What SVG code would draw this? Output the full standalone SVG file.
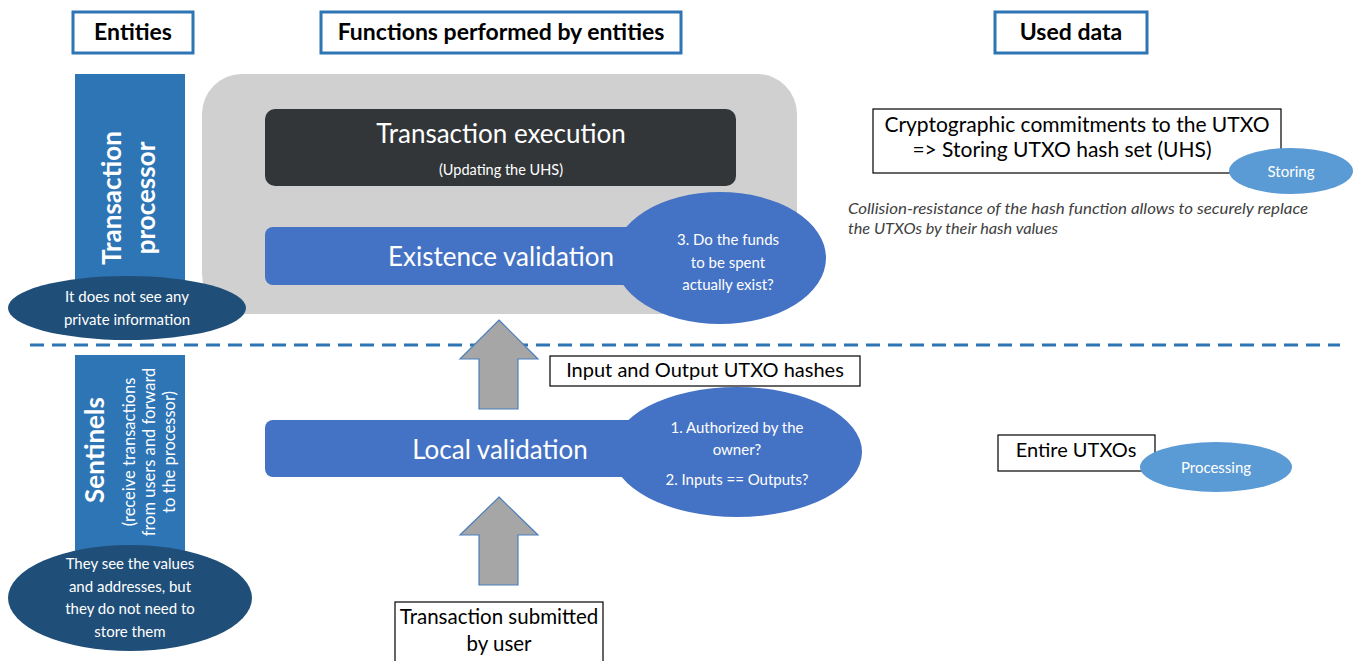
<svg xmlns="http://www.w3.org/2000/svg" width="1353" height="661" viewBox="0 0 1353 661">
<defs>
<style>
text{font-family:Lato,"Open Sans","Liberation Sans",sans-serif;}
.hdr{fill:#fff;stroke:#2e75b6;stroke-width:3;}
.hdrt{font-size:23px;font-weight:bold;fill:#000;text-anchor:middle;}
.bar{fill:#2e75b6;}
.dark{fill:#1f4e79;}
.mid{fill:#4472c4;}
.light{fill:#5b9bd5;}
.w{fill:#fff;text-anchor:middle;}
.box{fill:#fff;stroke:#000;stroke-width:1.2;}
.bt{fill:#000;text-anchor:middle;}
.arrow{fill:#a6a6a6;stroke:#4a7ebb;stroke-width:1.2;}
.big{font-size:26px;}
.small{font-size:15px;}
</style>
</defs>
<rect width="1353" height="661" fill="#fff"/>

<g id="headers">
<rect class="hdr" x="73" y="12" width="120" height="41"/>
<text class="hdrt" x="133" y="40">Entities</text>
<rect class="hdr" x="321" y="12" width="360" height="41"/>
<text class="hdrt" x="501" y="40">Functions performed by entities</text>
<rect class="hdr" x="995" y="12" width="152" height="41"/>
<text class="hdrt" x="1071" y="40">Used data</text>
</g>

<g id="processor-area">
<rect x="202" y="74" width="595" height="240" rx="40" fill="#d0d0d0"/>
</g>

<g id="tx-processor">
<rect class="bar" x="75" y="74" width="110" height="215"/>
<text class="w" transform="translate(121,198) rotate(-90)" style="font-size:26px;font-weight:bold">Transaction</text>
<text class="w" transform="translate(155,198) rotate(-90)" style="font-size:26px;font-weight:bold">processor</text>
</g>
<g id="tx-processor-note">
<ellipse class="dark" cx="127" cy="308" rx="119" ry="32"/>
<text class="w small" x="127" y="302">It does not see any</text>
<text class="w small" x="127" y="325">private information</text>
</g>

<g id="tx-execution">
<rect x="265" y="109" width="471" height="77" rx="10" fill="#333639"/>
<text class="w big" x="501" y="143">Transaction execution</text>
<text class="w" x="501" y="175" style="font-size:14.5px">(Updating the UHS)</text>
</g>

<g id="existence-validation">
<rect class="mid" x="265" y="227" width="390" height="58" rx="8"/>
<text class="w big" x="501" y="266">Existence validation</text>
</g>
<g id="existence-check">
<ellipse class="mid" cx="720" cy="258" rx="106" ry="66"/>
<text class="w small" x="728" y="245">3. Do the funds</text>
<text class="w small" x="728" y="268">to be spent</text>
<text class="w small" x="728" y="290">actually exist?</text>
</g>

<g id="connectors">
<line x1="30" y1="345" x2="1340" y2="345" stroke="#2e75b6" stroke-width="3" stroke-dasharray="14 8"/>
<polygon class="arrow" points="499,320 538,359 518,359 518,409 479,409 479,359 460,359"/>
<polygon class="arrow" points="499,497 538,535 518,535 518,585 479,585 479,535 460,535"/>
</g>

<g id="hashes-label">
<rect class="box" x="550" y="356" width="310" height="30"/>
<text class="bt" x="705" y="377" style="font-size:20px">Input and Output UTXO hashes</text>
</g>

<g id="sentinels">
<rect class="bar" x="75" y="355" width="110" height="200"/>
<text class="w" transform="translate(104,450) rotate(-90)" style="font-size:26px;font-weight:bold">Sentinels</text>
<text class="w" transform="translate(135,452) rotate(-90)" style="font-size:16.5px">(receive transactions</text>
<text class="w" transform="translate(155,452) rotate(-90)" style="font-size:16.5px">from users and forward</text>
<text class="w" transform="translate(175,452) rotate(-90)" style="font-size:16.5px">to the processor)</text>
</g>
<g id="sentinels-note">
<ellipse class="dark" cx="130" cy="598" rx="122" ry="53"/>
<text class="w small" x="130" y="569">They see the values</text>
<text class="w small" x="130" y="592">and addresses, but</text>
<text class="w small" x="130" y="614">they do not need to</text>
<text class="w small" x="130" y="637">store them</text>
</g>

<g id="local-validation">
<rect class="mid" x="265" y="420" width="390" height="57" rx="8"/>
<text class="w big" x="500" y="459">Local validation</text>
</g>
<g id="local-checks">
<ellipse class="mid" cx="737" cy="452" rx="125" ry="65"/>
<text class="w small" x="737" y="433">1. Authorized by the</text>
<text class="w small" x="737" y="455">owner?</text>
<text class="w small" x="737" y="485">2. Inputs == Outputs?</text>
</g>

<g id="tx-submitted">
<rect class="box" x="395" y="602" width="208" height="62"/>
<text class="bt" x="499" y="624" style="font-size:20.5px">Transaction submitted</text>
<text class="bt" x="499" y="651" style="font-size:20.5px">by user</text>
</g>

<g id="uhs">
<rect class="box" x="873" y="109" width="408" height="64"/>
<text class="bt" x="1077" y="132" style="font-size:21px">Cryptographic commitments to the UTXO</text>
<text class="bt" x="1062" y="157" style="font-size:21px">=&gt; Storing UTXO hash set (UHS)</text>
</g>
<g id="storing">
<ellipse class="light" cx="1291" cy="171" rx="62" ry="23"/>
<text class="w small" x="1291" y="177">Storing</text>
</g>
<g id="collision-note">
<text x="848" y="214" textLength="460" lengthAdjust="spacingAndGlyphs" style="font-size:15px;font-style:italic;fill:#404040">Collision-resistance of the hash function allows to securely replace</text>
<text x="848" y="234" textLength="210" lengthAdjust="spacingAndGlyphs" style="font-size:15px;font-style:italic;fill:#404040">the UTXOs by their hash values</text>
</g>

<g id="entire-utxos">
<rect class="box" x="998" y="435" width="157" height="36"/>
<text class="bt" x="1076" y="457" style="font-size:20px">Entire UTXOs</text>
</g>
<g id="processing">
<ellipse class="light" cx="1216" cy="467" rx="76" ry="25"/>
<text class="w small" x="1216" y="473">Processing</text>
</g>
</svg>
